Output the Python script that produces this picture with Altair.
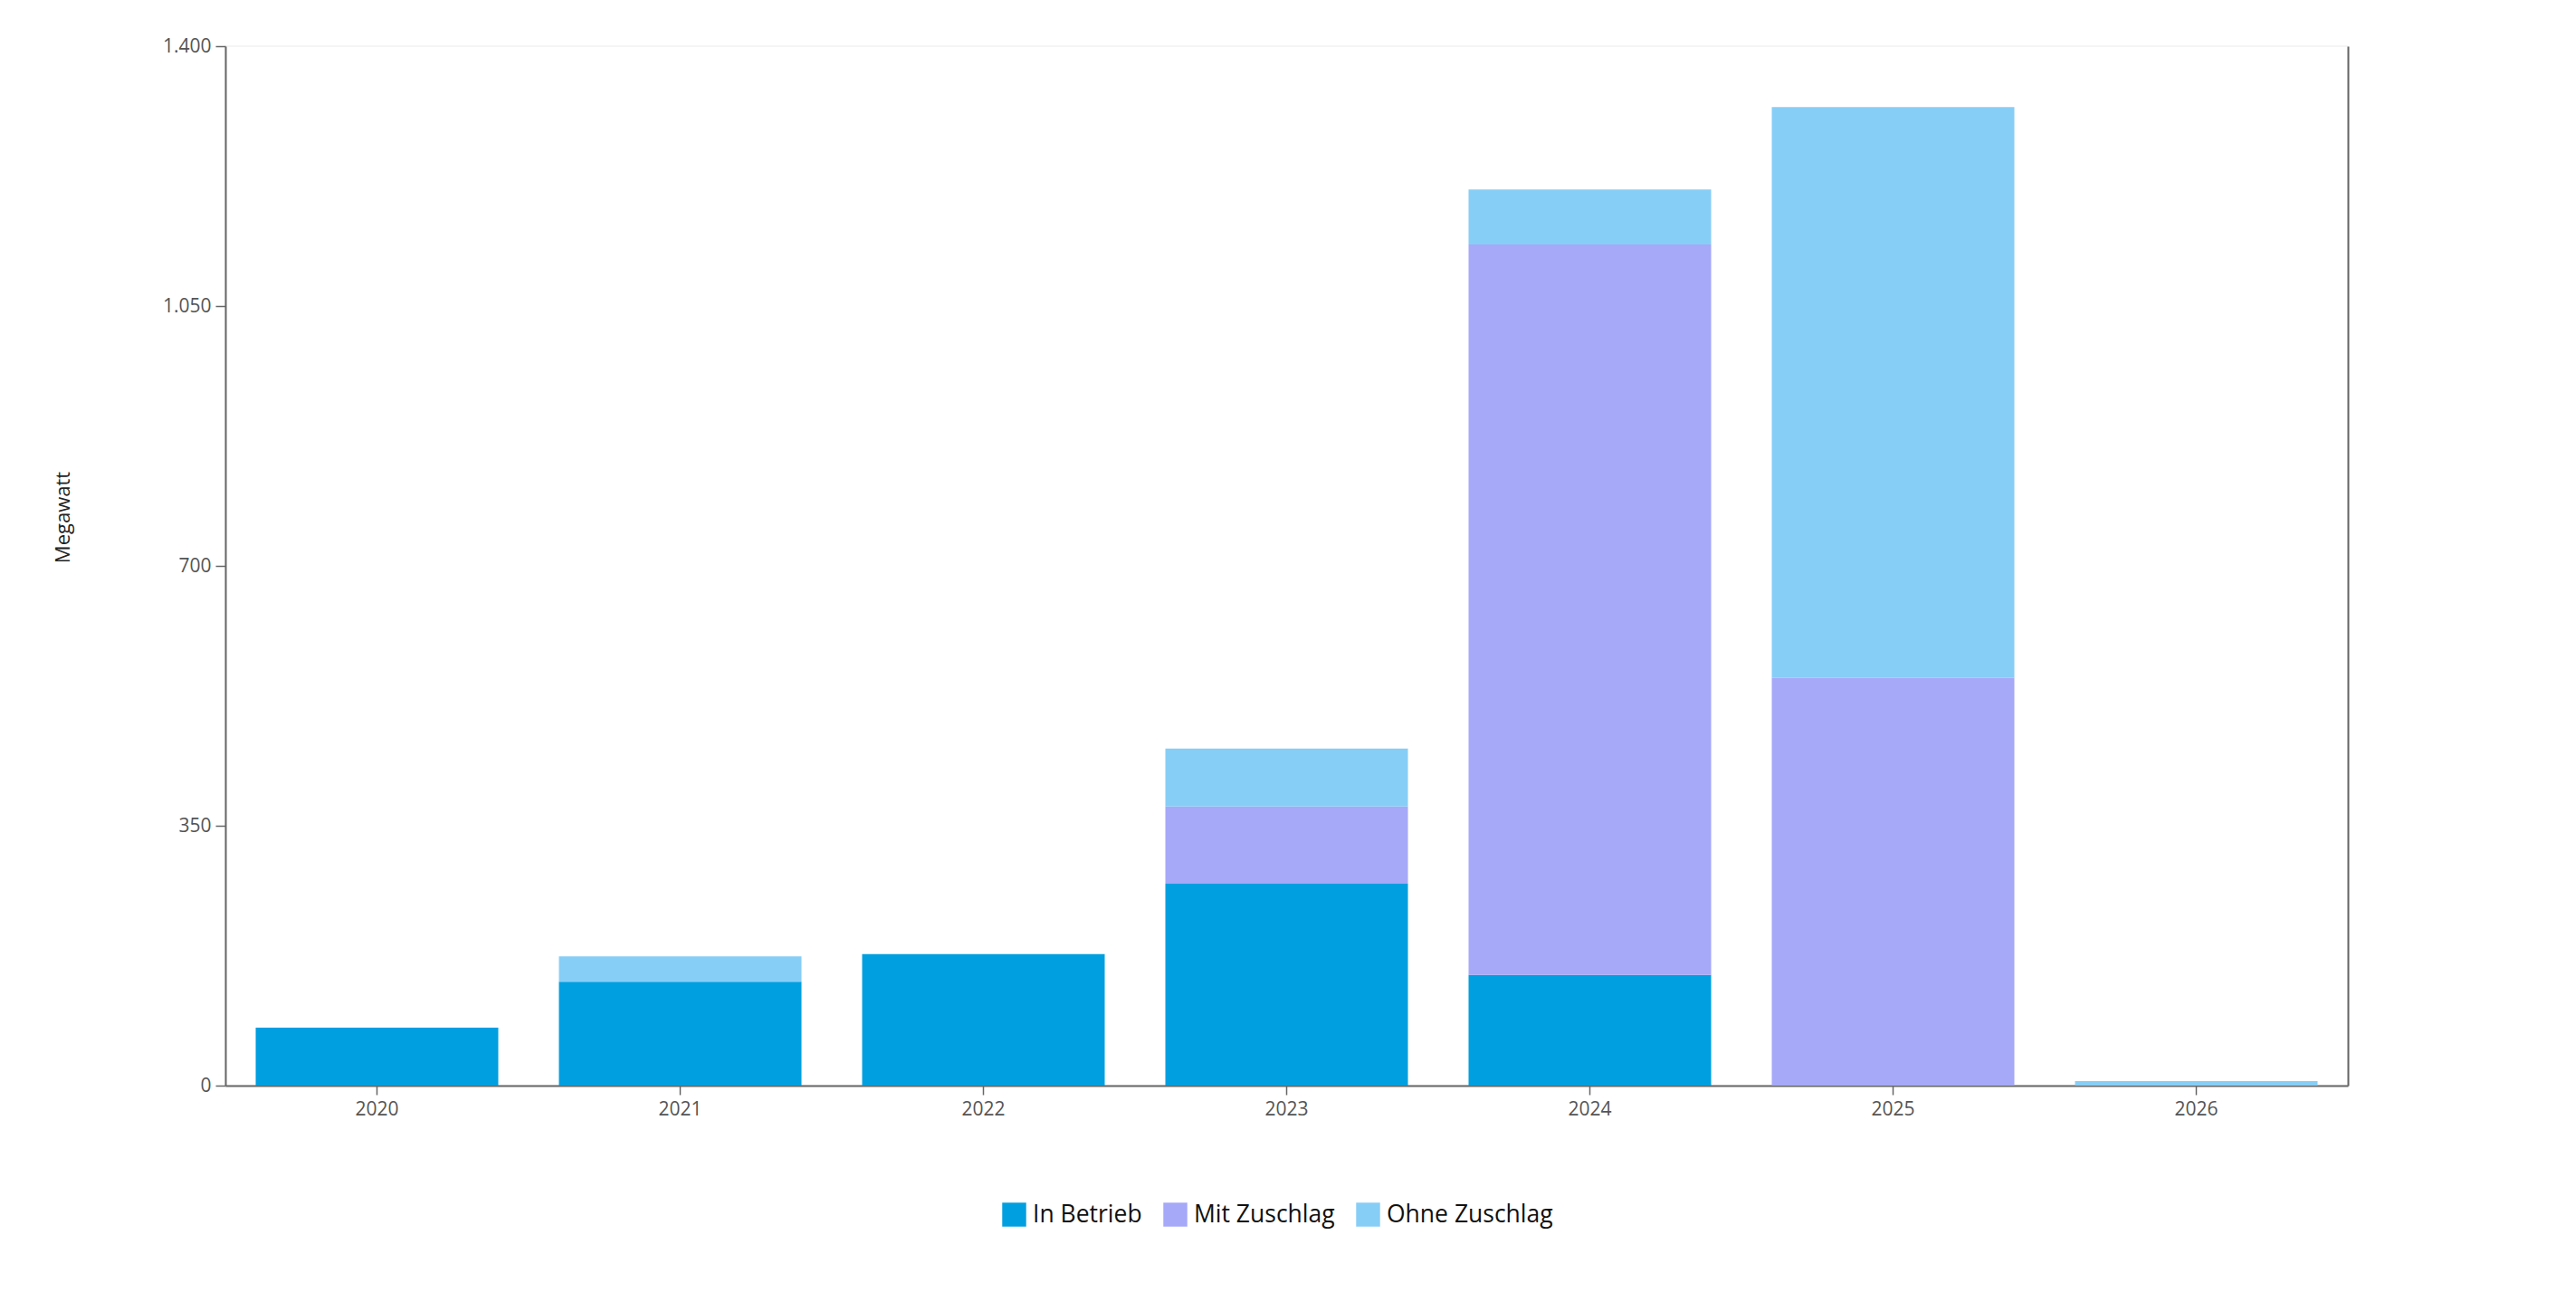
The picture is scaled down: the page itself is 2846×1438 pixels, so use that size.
import altair as alt
import pandas as pd

years = ["2020", "2021", "2022", "2023", "2024", "2025", "2026"]
in_betrieb = [78, 140, 177, 272, 149, 0, 0]
mit_zuschlag = [0, 0, 0, 104, 984, 549, 0]
ohne_zuschlag = [0, 34, 0, 78, 74, 769, 6]
series = ["In Betrieb", "Mit Zuschlag", "Ohne Zuschlag"]
colors = ["#009FE0", "#A6A8F8", "#87CEF6"]
y_ticks = [0, 350, 700, 1050, 1400]

rows = []
for i, vals in enumerate([in_betrieb, mit_zuschlag, ohne_zuschlag]):
    for yr, v in zip(years, vals):
        if v > 0:
            rows.append({"Jahr": yr, "Status": series[i], "MW": v, "idx": i})
df = pd.DataFrame(rows)

W, H = 2345, 1148
FONT = "Open Sans"
AX = "#666666"
LBL = "#555555"

x = alt.X(
    "Jahr:N", sort=years,
    scale=alt.Scale(paddingInner=0.2, paddingOuter=0.1),
    axis=alt.Axis(title=None, labelAngle=0, labelFontSize=21, labelFont=FONT,
                  labelColor=LBL, labelPadding=5, tickSize=10, tickColor=AX,
                  tickWidth=1.5, domainColor=AX, domainWidth=2),
)

yscale = alt.Scale(domain=[0, 1400], nice=False)

y_left = alt.Y(
    "MW:Q", stack="zero", scale=yscale,
    axis=alt.Axis(values=y_ticks,
                  labelExpr="replace(format(datum.value, ','), ',', '.')",
                  title="Megawatt", titleFontSize=22, titleFont=FONT,
                  titleColor="#222222", titleFontWeight="normal",
                  titleX=-180, titleY=520, titleBaseline="middle",
                  grid=False, labelFontSize=21, labelFont=FONT, labelColor=LBL,
                  labelPadding=5, tickSize=11, tickColor=AX, tickWidth=1.5,
                  domainColor=AX, domainWidth=2),
)

y_right = alt.Y(
    "MW:Q", stack="zero", scale=yscale,
    axis=alt.Axis(orient="right", labels=False, ticks=False, title=None,
                  grid=False, domainColor=AX, domainWidth=2, values=y_ticks),
)

color = alt.Color(
    "Status:N",
    scale=alt.Scale(domain=series, range=colors),
    legend=alt.Legend(orient="none", legendX=858, legendY=1277,
                      direction="horizontal", title=None, symbolType="square",
                      symbolSize=700, symbolStrokeWidth=0, labelFontSize=26.5,
                      labelFont=FONT, labelColor="#111111", columnPadding=23,
                      labelOffset=7, labelLimit=1000),
)

order = alt.Order("idx:Q", sort="ascending")

bars = alt.Chart(df).mark_bar().encode(x=x, y=y_left, color=color, order=order)
frame = alt.Chart(df).mark_bar(opacity=0).encode(x=x, y=y_right, order=order)

chart = (
    alt.layer(bars, frame)
    .resolve_axis(y="independent")
    .properties(
        width=W, height=H,
        autosize=alt.AutoSizeParams(type="none"),
        padding={"left": 241, "top": 43, "right": 220, "bottom": 200},
    )
    .configure_view(stroke="#f2f2f2", strokeWidth=1.5)
)

chart.save("out.html", embed_options={"renderer": "svg", "actions": False})
